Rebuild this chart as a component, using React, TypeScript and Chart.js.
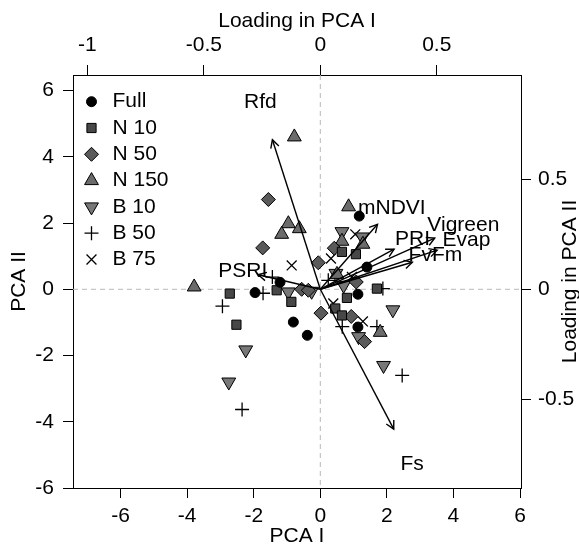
import React, { useEffect, useRef } from 'react';
import { Chart, registerables } from 'chart.js';
import { drawPoint } from 'chart.js/helpers';
Chart.register(...registerables);

// ---- axes ----
const xTicks = [-6, -4, -2, 0, 2, 4, 6];
const yTicks = [-6, -4, -2, 0, 2, 4, 6];
const x2Ticks = [-1, -0.5, 0, 0.5];
const y2Ticks = [-0.5, 0, 0.5];
const xRange = [-7.43, 6.03];
const yRange = [-6.0, 6.47];
const loadingRatioX = 7.0;
const loadingRatioY = 6.63;

// ---- scores ----
const groupNames = ['Full', 'N 10', 'N 50', 'N 150', 'B 10', 'B 50', 'B 75'];
const fullX = [1.17, 1.4, 1.13, -1.96, -1.21, -0.81, -0.39, 1.13];
const fullY = [2.21, 0.67, -0.15, -0.1, 0.21, -0.99, -1.39, -1.14];
const n10X = [-2.72, -2.52, -1.31, -0.87, 0.65, 1.07, 0.8, 1.7, 0.45, 0.65];
const n10Y = [-0.13, -1.07, -0.03, -0.38, 1.13, 1.06, -0.26, 0.02, -0.58, -0.79];
const n50X = [-1.56, -1.73, 0.42, -0.06, -0.56, -0.36, 0.02, 1.08, 0.93, 1.33];
const n50Y = [2.71, 1.25, 1.24, 0.8, 0.0, -0.03, -0.72, 0.22, -0.82, -1.58];
const n150X = [-0.78, -0.96, -1.16, -0.63, 0.85, 0.65, 1.28, -3.79, 1.8, 0.5];
const n150Y = [4.6, 1.98, 1.66, 1.83, 2.49, 1.45, 1.36, 0.07, -1.3, 0.45];
const b10X = [0.65, 1.26, -0.96, -0.26, 0.7, 2.18, -2.24, -2.75, 1.15, 1.9, 0.47];
const b10Y = [1.74, 1.58, -0.08, -0.06, 0.12, -0.62, -1.83, -2.8, -1.43, -2.3, 0.48];
const b50X = [-1.72, -2.94, -2.35, -1.44, 0.24, 1.88, 0.66, 1.7, 2.46];
const b50Y = [-0.12, -0.51, -3.63, 0.37, 0.27, 0.02, -1.13, -1.13, -2.6];
const b75X = [-0.86, 1.05, 0.32, 0.95, 0.39, 1.28];
const b75Y = [0.72, 1.66, 0.93, 0.37, -0.43, -0.97];

// ---- loadings ----
const varNames = ['Rfd', 'Fs', 'mNDVI', 'Vigreen', 'PRI', 'Evap', 'FvFm', 'PSRI'];
const loadX = [-0.257, 0.394, 0.307, 0.614, 0.396, 0.627, 0.494, -0.333];
const loadY = [0.851, -0.796, 0.37, 0.291, 0.228, 0.223, 0.154, 0.083];

const FONT = "'Liberation Sans', Arial, sans-serif";
const fontSpec = { family: FONT, size: 21 };

const styles = [
  { pointStyle: 'circle', radius: 5, bg: '#000000', rotation: 0 },
  { pointStyle: 'rect', radius: 6.5, bg: '#474747', rotation: 0 },
  { pointStyle: 'rectRot', radius: 7, bg: '#5a5a5a', rotation: 0 },
  { pointStyle: 'triangle', radius: 8, bg: '#6b6b6b', rotation: 0 },
  { pointStyle: 'triangle', radius: 8, bg: '#787878', rotation: 180 },
  { pointStyle: 'cross', radius: 7, bg: '#000000', rotation: 0 },
  { pointStyle: 'crossRot', radius: 7, bg: '#000000', rotation: 0 },
];

const groupX = [fullX, n10X, n50X, n150X, b10X, b50X, b75X];
const groupY = [fullY, n10Y, n50Y, n150Y, b10Y, b50Y, b75Y];

const overlay = {
  id: 'overlay',
  beforeDatasetsDraw(chart: any) {
    const { ctx, chartArea: a, scales } = chart;
    const x0 = scales.x.getPixelForValue(0);
    const y0 = scales.y.getPixelForValue(0);
    ctx.save();
    ctx.strokeStyle = '#b8b8b8';
    ctx.lineWidth = 1;
    ctx.setLineDash([5, 4]);
    ctx.beginPath();
    ctx.moveTo(a.left, y0);
    ctx.lineTo(a.right, y0);
    ctx.moveTo(x0, a.top);
    ctx.lineTo(x0, a.bottom);
    ctx.stroke();
    ctx.restore();
  },
  afterDatasetsDraw(chart: any) {
    const { ctx, chartArea: a, scales } = chart;
    ctx.save();
    // arrow heads
    chart.data.datasets.forEach((ds: any, i: number) => {
      if (!ds.isArrow) return;
      const meta = chart.getDatasetMeta(i);
      const p0 = meta.data[0];
      const p1 = meta.data[1];
      const ang = Math.atan2(p1.y - p0.y, p1.x - p0.x);
      const len = 9;
      const spread = (28 * Math.PI) / 180;
      ctx.strokeStyle = '#000';
      ctx.lineWidth = 1.4;
      ctx.beginPath();
      ctx.moveTo(p1.x - len * Math.cos(ang - spread), p1.y - len * Math.sin(ang - spread));
      ctx.lineTo(p1.x, p1.y);
      ctx.lineTo(p1.x - len * Math.cos(ang + spread), p1.y - len * Math.sin(ang + spread));
      ctx.stroke();
    });
    // variable labels
    ctx.fillStyle = '#000';
    ctx.font = `21px ${FONT}`;
    ctx.textAlign = 'center';
    ctx.textBaseline = 'middle';
    varNames.forEach((n, i) => {
      ctx.fillText(n, scales.x2.getPixelForValue(loadX[i]), scales.y2.getPixelForValue(loadY[i]));
    });
    // legend
    ctx.textAlign = 'left';
    groupNames.forEach((n, i) => {
      const st = styles[i];
      const y = a.top + 26.7 + i * 26.3;
      ctx.fillStyle = st.bg;
      ctx.strokeStyle = '#000';
      ctx.lineWidth = i >= 5 ? 1.3 : 1;
      drawPoint(ctx, { pointStyle: st.pointStyle, radius: st.radius, rotation: st.rotation, borderWidth: ctx.lineWidth }, a.left + 18.5, y);
      ctx.fillStyle = '#000';
      ctx.fillText(n, a.left + 39.5, y);
    });
    // axis titles
    const cx = (a.left + a.right) / 2;
    const cy = (a.top + a.bottom) / 2;
    ctx.textAlign = 'center';
    ctx.fillText('Loading in PCA I', cx, 21);
    ctx.fillText('PCA I', cx, 536);
    ctx.save();
    ctx.translate(19, cy);
    ctx.rotate(-Math.PI / 2);
    ctx.fillText('PCA II', 0, 0);
    ctx.restore();
    ctx.save();
    ctx.translate(570, cy);
    ctx.rotate(-Math.PI / 2);
    ctx.fillText('Loading in PCA II', 0, 0);
    ctx.restore();
    ctx.restore();
  },
};

function axis(position: string, min: number, max: number, ticks: number[], size: number, pad: number) {
  return {
    type: 'linear',
    position,
    min,
    max,
    afterBuildTicks: (s: any) => {
      s.ticks = ticks.map((v) => ({ value: v }));
    },
    afterFit: (s: any) => {
      if (position === 'left' || position === 'right') s.width = size;
      else s.height = size;
    },
    ticks: {
      font: fontSpec,
      color: '#000',
      padding: pad,
      autoSkip: false,
      maxRotation: 0,
      minRotation: 0,
      callback: (v: number) => String(v),
    },
    grid: { drawOnChartArea: false, drawTicks: true, tickLength: 10, color: '#000', lineWidth: 1 },
    border: { display: true, color: '#000', width: 1 },
    title: { display: false },
  };
}

export default function App() {
  const ref = useRef<HTMLCanvasElement>(null);
  useEffect(() => {
    const datasets: any[] = [];
    varNames.forEach((n, i) => {
      datasets.push({
        label: n,
        isArrow: true,
        data: [
          { x: 0, y: 0 },
          { x: 0.8 * loadX[i], y: 0.8 * loadY[i] },
        ],
        xAxisID: 'x2',
        yAxisID: 'y2',
        showLine: true,
        borderColor: '#000',
        borderWidth: 1.4,
        pointRadius: 0,
        pointHoverRadius: 0,
        order: 0,
      });
    });
    groupNames.forEach((n, g) => {
      const st = styles[g];
      datasets.push({
        label: n,
        data: groupX[g].map((x, k) => ({ x, y: groupY[g][k] })),
        xAxisID: 'x',
        yAxisID: 'y',
        showLine: false,
        pointStyle: st.pointStyle,
        pointRadius: st.radius,
        pointRotation: st.rotation,
        pointBackgroundColor: st.bg,
        pointBorderColor: '#000',
        pointBorderWidth: g >= 5 ? 1.3 : 1,
        order: 1,
      });
    });
    const chart = new Chart(ref.current as HTMLCanvasElement, {
      type: 'scatter',
      data: { datasets },
      options: {
        responsive: false,
        animation: false,
        devicePixelRatio: 1,
        layout: { padding: 0 },
        plugins: { legend: { display: false }, tooltip: { enabled: false } },
        scales: {
          x: axis('bottom', xRange[0], xRange[1], xTicks, 546 - 488, 6),
          x2: axis('top', xRange[0] / loadingRatioX, xRange[1] / loadingRatioX, x2Ticks, 75, 7),
          y: axis('left', yRange[0], yRange[1], yTicks, 73, 9),
          y2: axis('right', yRange[0] / loadingRatioY, yRange[1] / loadingRatioY, y2Ticks, 579 - 521, 7),
        },
      } as any,
      plugins: [overlay],
    });
    return () => chart.destroy();
  }, []);
  return (
    <div style={{ position: 'fixed', left: 0, top: 0, width: 579, height: 546, background: '#fff' }}>
      <canvas ref={ref} width={579} height={546} />
    </div>
  );
}
